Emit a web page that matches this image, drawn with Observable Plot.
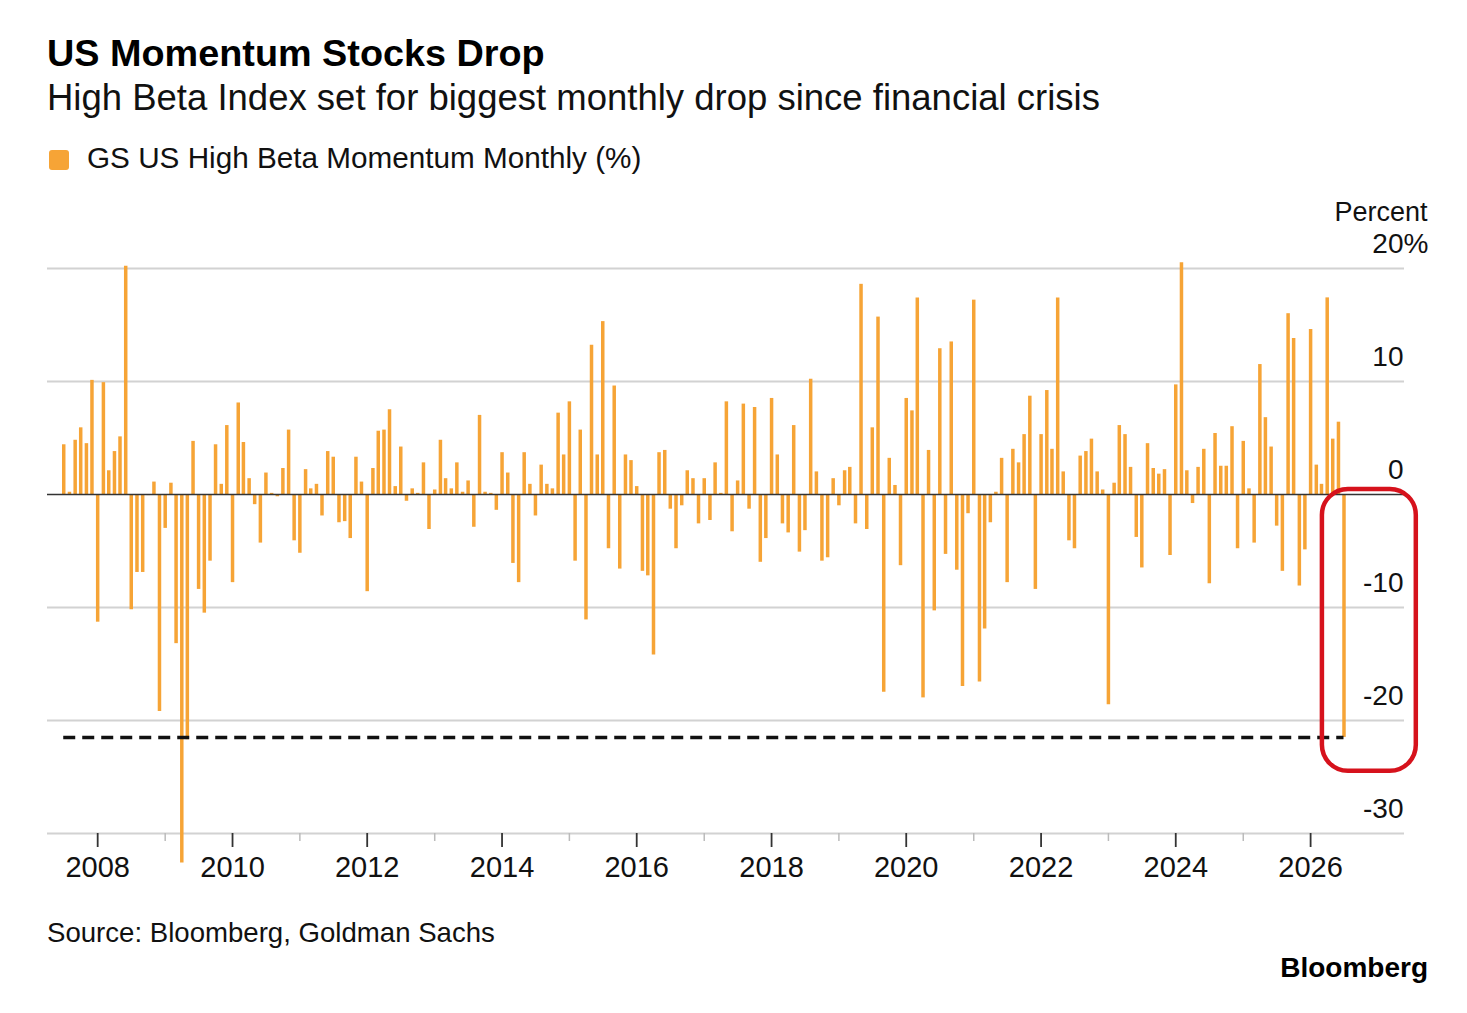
<!DOCTYPE html>
<html>
<head>
<meta charset="utf-8">
<script src="https://cdn.jsdelivr.net/npm/d3@7"></script>
<script src="https://cdn.jsdelivr.net/npm/@observablehq/plot@0.6"></script>
<style>
  html, body { margin: 0; padding: 0; background: #fff; }
  body { width: 1467px; height: 1013px; position: relative; overflow: hidden;
         font-family: "Liberation Sans", Arial, Helvetica, sans-serif; color: #111; }
  .t { position: absolute; white-space: nowrap; line-height: 1; }
  #title { left: 47px; top: 34.5px; font-size: 37.8px; font-weight: 700; color: #000; }
  #subtitle { left: 47px; top: 79.6px; font-size: 36.5px; color: #111; }
  #legend { left: 49px; top: 143.4px; font-size: 29.7px; color: #111; }
  #legend .sw { position: absolute; left: 0; top: 6.6px; width: 20px; height: 20px; border-radius: 3px; background: #F6A436; }
  #legend .lt { position: absolute; left: 38px; top: 0; }
  #source { left: 47px; top: 918.5px; font-size: 27.6px; color: #111; }
  #brand { right: 39px; top: 954px; font-size: 28px; font-weight: 700; color: #000; }
  #chart { position: absolute; left: 0; top: 190px; }
</style>
</head>
<body>
<div class="t" id="title">US Momentum Stocks Drop</div>
<div class="t" id="subtitle">High Beta Index set for biggest monthly drop since financial crisis</div>
<div class="t" id="legend"><span class="sw"></span><span class="lt" id="legendText"></span></div>
<div id="chart"></div>
<div class="t" id="source">Source: Bloomberg, Goldman Sachs</div>
<div class="t" id="brand">Bloomberg</div>
<script>
// ---- data ----
const seriesName = "GS US High Beta Momentum Monthly (%)";
const firstMonth = [2007, 7]; // year, month of first bar
// monthly returns, %, Jul 2007 .. Jul 2026
const values = [
  4.4, 0.2, 4.8, 5.9, 4.5, 10.1,            // 2007 Jul-Dec
  -11.3, 9.9, 2.1, 3.8, 5.1, 20.2, -10.2, -6.9, -6.9, -0.1, 1.1, -19.2,   // 2008
  -3.0, 1.0, -13.2, -32.6, -21.7, 4.7, -8.4, -10.5, -5.9, 4.4, 0.9, 6.1,  // 2009
  -7.8, 8.1, 4.6, 1.4, -0.9, -4.3, 1.9, 0.1, -0.2, 2.3, 5.7, -4.1,        // 2010
  -5.2, 2.2, 0.5, 0.9, -1.9, 3.8, 3.3, -2.5, -2.4, -3.9, 3.3, 1.1,        // 2011
  -8.6, 2.3, 5.6, 5.7, 7.5, 0.7, 4.2, -0.6, 0.5, 0.1, 2.8, -3.1,          // 2012
  0.4, 4.8, 1.4, 0.5, 2.8, 0.2, 1.2, -2.9, 7.0, 0.2, 0.1, -1.4,           // 2013
  3.7, 1.9, -6.1, -7.8, 3.7, 0.9, -1.9, 2.6, 0.9, 0.5, 7.2, 3.5,          // 2014
  8.2, -5.9, 5.7, -11.1, 13.2, 3.5, 15.3, -4.8, 9.6, -6.6, 3.5, 3.0,      // 2015
  0.7, -6.8, -7.2, -14.2, 3.7, 3.9, -1.3, -4.8, -1.0, 2.1, 1.4, -2.6,     // 2016
  1.4, -2.3, 2.8, 0.1, 8.2, -3.3, 1.2, 8.0, -1.3, 7.7, -6.0, -3.9,        // 2017
  8.5, 3.5, -2.6, -3.4, 6.1, -5.1, -3.2, 10.2, 2.0, -5.9, -5.6, 1.4,      // 2018
  -1.0, 2.1, 2.4, -2.6, 18.6, -3.1, 5.9, 15.7, -17.5, 3.2, 0.8, -6.3,     // 2019
  8.5, 7.4, 17.4, -18.0, 3.9, -10.3, 12.9, -5.3, 13.5, -6.7, -17.0, -1.7, // 2020
  17.2, -16.6, -11.9, -2.5, 0.2, 3.2, -7.8, 4.0, 2.8, 5.3, 8.7, -8.4,     // 2021
  5.3, 9.2, 4.0, 17.4, 2.0, -4.1, -4.8, 3.4, 3.8, 4.9, 2.0, 0.4,          // 2022
  -18.6, 1.0, 6.1, 5.3, 2.4, -3.8, -6.5, 4.5, 2.3, 1.8, 2.2, -5.4,        // 2023
  9.7, 20.5, 2.1, -0.8, 2.4, 4.0, -7.9, 5.4, 2.5, 2.5, 6.0, -4.8,         // 2024
  4.7, 0.5, -4.3, 11.5, 6.8, 4.2, -2.8, -6.8, 16.0, 13.8, -8.1, -4.9,     // 2025
  14.6, 2.6, 0.9, 17.4, 4.9, 6.4, -21.5                                    // 2026 Jan-Jul
];
const yTicks = [20, 10, 0, -10, -20, -30];
const yUnit = "%";
const yTitle = "Percent";
const majorYears = [2008, 2010, 2012, 2014, 2016, 2018, 2020, 2022, 2024, 2026];
const minorYears = [2009, 2011, 2013, 2015, 2017, 2019, 2021, 2023, 2025];
const xDomain = ["2007-04-04", "2027-05-25"];
const refLevel = [-21.5];
const highlight = [{x1: "2026-03-06", x2: "2027-07-28", y1: 0.45, y2: -24.5}];

// ---- build ----
document.getElementById("legendText").textContent = seriesName;
const start = new Date(Date.UTC(firstMonth[0], firstMonth[1] - 1, 1));
const data = values.map((v, i) => ({date: d3.utcMonth.offset(start, i), value: v}));
const yearDate = y => new Date(Date.UTC(y, 0, 1));
const hl = highlight.map(d => ({x1: new Date(d.x1), x2: new Date(d.x2), y1: d.y1, y2: d.y2}));
const font = "\"Liberation Sans\", Arial, Helvetica, sans-serif";

const chart = Plot.plot({
  width: 1467,
  height: 710,
  marginLeft: 47,
  marginRight: 63,
  marginTop: 78,
  marginBottom: 67,
  x: {type: "utc", domain: xDomain.map(d => new Date(d)), label: null},
  y: {domain: [-30, 20], axis: null},
  style: {fontFamily: font, background: "transparent", overflow: "visible", color: "#111"},
  marks: [
    Plot.ruleY(yTicks.filter(d => d !== 0), {stroke: "#d2d2d2", strokeWidth: 2}),
    Plot.ruleX(data, {x: "date", y1: 0, y2: "value", stroke: "#F6A436", strokeWidth: 3.5}),
    Plot.ruleY([0], {stroke: "#333", strokeWidth: 1.6}),
    Plot.ruleY(refLevel, {x1: () => data[0].date, x2: () => data[data.length - 1].date,
      stroke: "#111", strokeWidth: 3.5, strokeDasharray: "12,7"}),
    Plot.rect(hl, {x1: "x1", x2: "x2", y1: "y1", y2: "y2", rx: 26, ry: 26,
      fill: "none", stroke: "#d6121c", strokeWidth: 4.5}),
    Plot.axisX(minorYears.map(yearDate), {tickSize: 8, tickFormat: () => "", stroke: "#bbb", strokeWidth: 1.5, label: null}),
    Plot.axisX(majorYears.map(yearDate), {tickSize: 14, tickPadding: 9, tickFormat: "%Y",
      fontSize: 29, stroke: "#333", strokeWidth: 1.8, fill: "#111", label: null}),
    Plot.text(yTicks, {y: d => d, text: d => String(d), frameAnchor: "right", textAnchor: "end",
      dx: -1, dy: -24, fontSize: 28, fill: "#111"}),
    Plot.text([{y: yTicks[0], t: yUnit}], {y: "y", text: "t", frameAnchor: "right", textAnchor: "start",
      dx: -1, dy: -24, fontSize: 28, fill: "#111"}),
    Plot.text([{y: yTicks[0], t: yTitle}], {y: "y", text: "t", frameAnchor: "right", textAnchor: "end",
      dx: 23, dy: -56, fontSize: 27, fill: "#111"})
  ]
});
document.getElementById("chart").appendChild(chart);
</script>
</body>
</html>
